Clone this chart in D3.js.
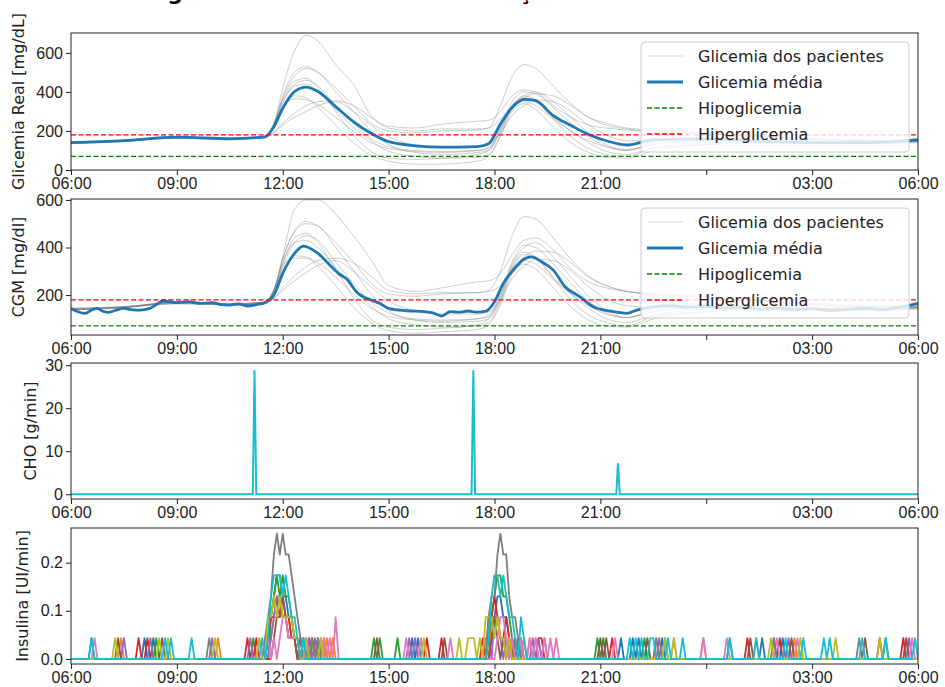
<!DOCTYPE html>
<html>
<head>
<meta charset="utf-8">
<script src="https://cdn.jsdelivr.net/npm/d3@7"></script>
<style>
  body { margin: 0; background: #fff; }
  svg { font-family: "DejaVu Sans", sans-serif; }
</style>
</head>
<body>
<svg id="chart" width="945" height="687"></svg>
<script>
// ---------------- data ----------------
const chartTitle = "Figura 5: Resultado da Simulação em Malha Fechada";
const xTickHours = [0, 3, 6, 9, 12, 15, 18, 21, 24];
const xTickLabels = ["06:00", "09:00", "12:00", "15:00", "18:00", "21:00", "", "03:00", "06:00"];
const legendLabels = ["Glicemia dos pacientes", "Glicemia média", "Hipoglicemia", "Hiperglicemia"];
const hypoLimit = 70;
const hyperLimit = 180;

// key times for the patient curves (both glucose panels)
const keyTimes = ["06:00", "07:30", "09:00", "10:30", "11:30", "11:45", "12:00", "12:20", "12:40", "13:00",
  "13:30", "14:00", "14:30", "15:00", "15:45", "16:30", "17:30", "17:50", "18:10", "18:30", "18:50",
  "19:10", "19:40", "20:10", "20:40", "21:10", "21:45", "22:30", "00:00", "01:30", "03:00", "04:30", "06:00"];

const realMean = [140, 150, 168, 160, 170, 222, 316, 402, 425, 402, 325, 248, 188, 145, 124, 117, 120, 135,
  235, 320, 362, 355, 278, 228, 182, 150, 128, 155, 160, 148, 140, 140, 155];

const realPatients = [
  [135, 148, 172, 158, 168, 240, 420, 610, 690, 660, 540, 440, 280, 225, 215, 235, 250, 255, 300, 380, 410, 400, 330, 270, 230, 215, 205, 200, 190, 175, 160, 150, 150],
  [142, 152, 165, 162, 172, 230, 380, 500, 530, 500, 420, 330, 240, 200, 190, 200, 205, 215, 330, 480, 540, 520, 430, 340, 270, 230, 210, 195, 185, 170, 160, 150, 155],
  [138, 146, 170, 158, 165, 235, 360, 455, 470, 420, 300, 180, 95, 60, 55, 60, 80, 100, 200, 330, 370, 350, 260, 170, 110, 80, 70, 110, 130, 140, 145, 140, 150],
  [145, 150, 165, 165, 170, 225, 340, 440, 460, 430, 330, 240, 160, 120, 100, 95, 100, 110, 220, 350, 400, 390, 320, 240, 170, 120, 100, 140, 160, 150, 140, 135, 145],
  [140, 148, 170, 160, 168, 240, 330, 380, 370, 320, 230, 140, 75, 45, 30, 30, 45, 70, 170, 300, 340, 310, 220, 140, 90, 65, 60, 100, 130, 140, 140, 135, 140],
  [138, 150, 162, 160, 170, 195, 240, 290, 330, 350, 355, 330, 270, 215, 200, 210, 210, 215, 260, 330, 370, 390, 380, 330, 270, 240, 215, 205, 190, 170, 160, 150, 155],
  [142, 150, 168, 163, 170, 230, 320, 365, 360, 335, 270, 200, 140, 110, 95, 90, 100, 115, 210, 320, 350, 330, 260, 200, 150, 120, 105, 130, 150, 150, 145, 140, 150],
  [140, 146, 166, 160, 168, 190, 230, 270, 300, 330, 350, 300, 230, 170, 130, 120, 120, 130, 190, 280, 330, 360, 350, 300, 230, 180, 150, 150, 165, 160, 150, 145, 150],
  [137, 150, 170, 158, 165, 230, 350, 430, 440, 400, 310, 220, 150, 95, 70, 60, 65, 80, 180, 320, 380, 360, 270, 200, 140, 95, 80, 115, 140, 145, 140, 140, 145],
  [143, 152, 168, 162, 172, 235, 370, 480, 520, 500, 400, 300, 200, 130, 90, 80, 90, 100, 200, 330, 380, 400, 350, 270, 190, 130, 100, 130, 150, 150, 145, 140, 150]
];

const cgmMeanTimes = ["06:00", "06:12", "06:24", "06:36", "06:44", "06:54", "07:03", "07:15", "07:29", "07:45",
  "07:57", "08:14", "08:25", "08:36", "08:48", "09:00", "09:20", "09:40", "10:00", "10:15", "10:30", "10:45",
  "11:00", "11:15", "11:30", "11:45", "12:00", "12:20", "12:35", "13:00", "13:20", "13:35", "13:50", "14:05",
  "14:30", "14:45", "15:00", "15:30", "16:00", "16:15", "16:30", "16:45", "17:00", "17:15", "17:30", "17:45",
  "18:00", "18:15", "18:32", "18:52", "19:03", "19:20", "19:40", "20:00", "20:25", "20:48", "21:16", "21:45",
  "22:02", "22:30", "23:00", "23:30", "00:00", "00:30", "01:00", "01:30", "02:00", "02:30", "03:00", "03:30",
  "04:00", "04:30", "05:00", "05:30", "06:00"];
const cgmMean = [144, 130, 123, 138, 144, 132, 127, 135, 144, 138, 137, 144, 160, 175, 172, 168, 172, 165, 168,
  160, 158, 163, 154, 160, 168, 200, 291, 375, 406, 375, 326, 290, 265, 214, 179, 165, 144, 134, 130, 125, 112,
  130, 128, 133, 128, 132, 172, 249, 305, 354, 361, 340, 305, 235, 193, 151, 133, 123, 137, 150, 155, 148, 152,
  145, 150, 140, 145, 138, 142, 135, 140, 145, 138, 150, 165];

const cgmPatients = [
  [140, 148, 172, 158, 168, 215, 360, 560, 600, 600, 540, 450, 350, 240, 215, 230, 255, 260, 290, 370, 430, 440, 390, 310, 255, 230, 215, 205, 195, 180, 165, 155, 150],
  [142, 150, 165, 162, 170, 220, 350, 470, 510, 490, 420, 340, 250, 205, 195, 205, 210, 220, 300, 450, 530, 520, 440, 350, 280, 240, 215, 200, 190, 175, 160, 150, 155],
  [138, 146, 170, 158, 165, 220, 330, 440, 460, 420, 310, 190, 100, 65, 55, 60, 75, 100, 180, 320, 380, 360, 270, 180, 115, 85, 70, 110, 130, 140, 145, 140, 150],
  [145, 150, 165, 165, 170, 215, 320, 420, 450, 430, 340, 250, 170, 125, 100, 95, 100, 110, 200, 340, 410, 400, 330, 250, 175, 125, 105, 140, 160, 150, 140, 135, 145],
  [140, 148, 170, 160, 168, 225, 320, 365, 360, 320, 240, 150, 85, 50, 40, 45, 55, 75, 160, 290, 330, 310, 230, 150, 95, 70, 65, 100, 130, 140, 140, 135, 140],
  [138, 150, 162, 160, 170, 185, 230, 280, 320, 345, 355, 335, 280, 220, 205, 210, 210, 215, 240, 310, 360, 385, 380, 335, 275, 240, 215, 205, 190, 170, 160, 150, 155],
  [142, 150, 168, 163, 170, 220, 305, 355, 355, 335, 275, 205, 145, 110, 95, 90, 100, 115, 200, 310, 345, 330, 265, 205, 155, 120, 105, 130, 150, 150, 145, 140, 150],
  [140, 146, 166, 160, 168, 185, 220, 260, 295, 325, 345, 300, 235, 175, 135, 120, 120, 130, 180, 270, 320, 350, 345, 300, 235, 185, 155, 150, 165, 160, 150, 145, 150],
  [137, 150, 170, 158, 165, 220, 340, 420, 430, 400, 315, 225, 155, 100, 75, 65, 70, 85, 170, 310, 370, 355, 275, 205, 145, 100, 85, 115, 140, 145, 140, 140, 145],
  [143, 152, 168, 162, 172, 225, 355, 465, 500, 490, 400, 305, 205, 135, 95, 85, 90, 100, 190, 330, 400, 420, 360, 275, 195, 135, 105, 130, 150, 150, 145, 140, 150]
];

// carbohydrate intake (g/min)
const choTimes = ["06:00", "11:09", "11:12", "11:15", "17:21", "17:24", "17:27", "21:27", "21:30", "21:33", "06:00"];
const choValues = [0, 0, 28.8, 0, 0, 28.8, 0, 0, 7.2, 0, 0];

// insulin doses: "HH:MM level" where level counts 0.0434 UI/min steps, one list per patient
const insulinStep = 0.0434;
const insulinDoses = [
  // blue
  ["06:35 1", "08:05 1", "08:20 1", "11:35 1", "11:40 2", "11:45 3", "11:50 4", "11:55 4", "12:00 3", "12:05 3", "12:10 2",
   "12:15 2", "12:20 1", "12:25 1", "12:35 1", "15:40 1", "15:50 1", "17:55 1", "18:00 2", "18:05 3", "18:10 3", "18:15 2",
   "18:20 2", "18:25 1", "18:35 1", "21:35 1", "21:55 1", "22:05 1", "22:45 1", "00:40 1", "01:35 1", "01:55 1", "02:10 1"],
  // orange
  ["07:25 1", "10:10 1", "11:40 1", "11:45 2", "11:50 2", "11:55 3", "12:00 2", "12:05 2", "12:10 2", "12:15 1", "12:20 1",
   "12:30 1", "12:50 1", "13:15 1", "13:25 1", "17:45 1", "17:55 2", "18:00 2", "18:05 2", "18:10 1", "18:15 1", "18:20 1",
   "18:30 1", "18:50 1", "19:00 1", "19:10 1", "22:35 1", "23:55 1", "02:30 1", "05:40 1"],
  // green
  ["08:25 1", "11:10 1", "11:40 2", "11:45 3", "11:50 4", "11:55 3", "12:00 4", "12:05 3", "12:10 3", "12:15 2", "12:20 1",
   "12:25 1", "13:00 1", "14:35 1", "14:45 1", "15:15 1", "17:50 1", "17:55 2", "18:00 3", "18:05 4", "18:10 4", "18:15 3",
   "18:20 3", "18:25 2", "18:30 1", "18:40 1", "20:55 1", "21:05 1", "22:15 1", "22:50 1", "05:05 1"],
  // red
  ["07:55 1", "08:10 1", "11:00 1", "11:15 1", "11:35 1", "11:40 2", "11:45 2", "11:50 3", "11:55 2", "12:00 3", "12:05 2",
   "12:10 2", "12:15 1", "12:20 1", "12:45 1", "13:10 1", "16:05 1", "16:30 1", "17:40 1", "17:50 2", "17:55 2", "18:00 3",
   "18:05 2", "18:10 1", "18:15 1", "18:20 2", "18:25 1", "18:35 1", "19:15 1", "19:20 1", "21:20 1", "01:10 1", "02:05 1",
   "04:55 1", "05:35 1"],
  // purple
  ["07:30 1", "08:15 1", "10:00 1", "11:05 1", "11:40 1", "11:45 2", "11:50 3", "11:55 3", "12:00 2", "12:05 2", "12:10 1",
   "12:15 1", "12:20 1", "12:35 1", "12:45 1", "12:55 1", "13:05 1", "15:35 1", "15:45 1", "17:50 1", "18:00 2", "18:05 2",
   "18:10 1", "18:20 1", "18:30 1", "19:05 1", "19:15 1", "19:25 1", "22:40 1", "02:20 1", "05:45 1"],
  // brown
  ["07:20 1", "08:35 1", "11:45 1", "11:50 2", "11:55 2", "12:00 3", "12:05 2", "12:10 1", "12:15 1", "12:20 1", "12:30 1",
   "12:40 1", "12:50 1", "13:00 1", "14:40 1", "16:35 1", "17:55 1", "18:00 2", "18:05 1", "18:15 1", "18:25 1", "18:35 1",
   "18:45 1", "21:00 1", "21:10 1", "22:20 1", "01:15 1", "02:25 1", "04:30 1", "05:40 1"],
  // pink
  ["06:40 1", "11:20 1", "11:30 1", "11:35 1", "11:45 1", "11:55 1", "12:00 2", "12:05 2", "12:10 1", "12:15 1", "12:20 1",
   "12:25 1", "13:10 1", "13:20 1", "13:30 2", "15:30 1", "15:55 1", "16:45 1", "18:05 1", "18:10 2", "18:15 2", "18:20 1",
   "18:30 1", "18:45 1", "19:00 1", "19:10 1", "19:25 1", "19:35 1", "19:45 1", "21:25 1", "23:05 1", "23:55 1", "00:35 1",
   "01:25 1", "02:00 1", "02:35 1", "05:50 1"],
  // gray
  ["09:55 1", "11:30 1", "11:35 2", "11:40 3", "11:45 5", "11:50 6", "11:55 5", "12:00 6", "12:05 5", "12:10 5", "12:15 4",
   "12:20 3", "12:25 2", "12:30 1", "12:40 1", "12:50 1", "13:00 1", "17:50 2", "17:55 3", "18:00 3", "18:05 5", "18:10 6",
   "18:15 5", "18:20 5", "18:25 3", "18:30 2", "18:35 2", "18:40 1", "22:35 1", "01:55 1", "04:20 1"],
  // olive
  ["07:15 1", "08:30 1", "08:45 1", "10:05 1", "11:20 1", "11:35 2", "11:40 2", "11:45 3", "11:50 2", "11:55 3", "12:00 2",
   "12:05 2", "12:10 2", "12:15 2", "12:20 1", "12:25 1", "12:40 1", "13:05 1", "16:00 1", "17:00 1", "17:15 1", "17:20 1",
   "17:25 1", "17:35 1", "17:45 2", "17:50 2", "17:55 2", "18:00 1", "18:05 2", "18:10 1", "18:15 1", "18:25 1", "22:50 1",
   "23:05 1", "01:50 1", "02:40 1", "03:40 1", "04:55 1"],
  // cyan
  ["06:35 1", "08:40 1", "08:50 1", "09:25 1", "11:25 1", "11:35 1", "11:40 3", "11:45 4", "11:50 4", "11:55 4", "12:00 3",
   "12:05 4", "12:10 3", "12:15 2", "12:20 2", "12:25 1", "12:35 1", "17:50 1", "17:55 3", "18:00 4", "18:05 4", "18:10 3",
   "18:15 4", "18:20 3", "18:25 2", "18:30 2", "18:35 1", "18:45 2", "18:50 1", "21:50 1", "22:00 1", "22:10 1", "22:25 1",
   "22:30 1", "22:55 1", "23:20 1", "00:40 1", "01:25 1", "02:15 1", "02:45 1", "03:20 1", "03:30 1", "04:25 1", "05:05 1",
   "05:55 1"]
];

// ---------------- helpers ----------------
// hours since 06:00, going through midnight
function hoursSince6(s) {
  const [h, m] = s.split(":").map(Number);
  let v = h + m / 60 - 6;
  if (v < 0) v += 24;
  return v;
}
function timeline(list) {
  let prev = -1;
  return list.map(s => {
    let v = hoursSince6(s);
    if (v < prev) v += 24;
    prev = v;
    return v;
  });
}

const svg = d3.select("#chart");
const left = 71, right = 918;
const x = d3.scaleLinear().domain([0, 24]).range([left, right]);
const tab10 = d3.schemeCategory10;
const axisColor = "#222";

svg.append("text")
  .attr("x", 472.5).attr("y", 0)
  .attr("text-anchor", "middle")
  .attr("font-size", 22).attr("font-weight", "bold")
  .text(chartTitle);

function drawFrame(top, bottom, domain, ticks, fmt, label, labelX, id) {
  const y = d3.scaleLinear().domain(domain).range([bottom, top]);
  const g = svg.append("g");

  g.append("clipPath").attr("id", id)
    .append("rect").attr("x", left).attr("y", top).attr("width", right - left).attr("height", bottom - top);

  const plot = g.append("g").attr("clip-path", `url(#${id})`);

  const xAxis = g.append("g")
    .attr("transform", `translate(0,${bottom})`)
    .call(d3.axisBottom(x).tickValues(xTickHours).tickSize(5).tickPadding(3)
      .tickFormat((d, i) => xTickLabels[i]));
  const yAxis = g.append("g")
    .attr("transform", `translate(${left},0)`)
    .call(d3.axisLeft(y).tickValues(ticks).tickSize(5).tickPadding(3).tickFormat(fmt));

  [xAxis, yAxis].forEach(a => {
    a.select(".domain").remove();
    a.selectAll("line").attr("stroke", axisColor);
    a.selectAll("text").attr("font-size", 16).attr("fill", axisColor);
  });

  g.append("text")
    .attr("transform", `translate(${labelX},${(top + bottom) / 2}) rotate(-90)`)
    .attr("text-anchor", "middle")
    .attr("dominant-baseline", "central")
    .attr("font-size", 16).attr("fill", axisColor)
    .text(label);

  // frame drawn after the marks
  const frame = () => g.append("rect")
    .attr("x", left).attr("y", top).attr("width", right - left).attr("height", bottom - top)
    .attr("fill", "none").attr("stroke", axisColor).attr("stroke-width", 1);

  return { y, plot, g, frame };
}

function glucosePanel(top, bottom, domain, ticks, label, id, patients, meanTimes, meanValues) {
  const p = drawFrame(top, bottom, domain, ticks, d3.format("d"), label, 18, id);
  const kx = timeline(keyTimes);
  const line = d3.line().curve(d3.curveMonotoneX);

  patients.forEach(vals => {
    p.plot.append("path")
      .attr("d", line(vals.map((v, i) => [x(kx[i]), p.y(v)])))
      .attr("fill", "none").attr("stroke", "#7f7f7f").attr("stroke-opacity", 0.38).attr("stroke-width", 1);
  });

  const mx = timeline(meanTimes);
  p.plot.append("path")
    .attr("d", line(meanValues.map((v, i) => [x(mx[i]), p.y(v)])))
    .attr("fill", "none").attr("stroke", "#1f77b4").attr("stroke-width", 2.8);

  [[hypoLimit, "#008000"], [hyperLimit, "#ff0000"]].forEach(([lv, c]) => {
    p.plot.append("line")
      .attr("x1", left).attr("x2", right).attr("y1", p.y(lv)).attr("y2", p.y(lv))
      .attr("stroke", c).attr("stroke-width", 1.3).attr("stroke-dasharray", "5,2.5");
  });

  // legend
  const lx = 641, ly = top + 9, lw = 268, lh = 110;
  const lg = p.g.append("g");
  lg.append("rect").attr("x", lx).attr("y", ly).attr("width", lw).attr("height", lh)
    .attr("rx", 4).attr("fill", "#fff").attr("fill-opacity", 0.8)
    .attr("stroke", "#ccc").attr("stroke-width", 1);
  const styles = [
    { c: "#7f7f7f", o: 0.3, w: 1, d: null },
    { c: "#1f77b4", o: 1, w: 2.8, d: null },
    { c: "#008000", o: 1, w: 1.3, d: "5,2.5" },
    { c: "#ff0000", o: 1, w: 1.3, d: "5,2.5" }
  ];
  legendLabels.forEach((t, i) => {
    const cy = ly + 14 + i * 26;
    lg.append("line").attr("x1", lx + 6).attr("x2", lx + 42).attr("y1", cy).attr("y2", cy)
      .attr("stroke", styles[i].c).attr("stroke-opacity", styles[i].o)
      .attr("stroke-width", styles[i].w).attr("stroke-dasharray", styles[i].d);
    lg.append("text").attr("x", lx + 57).attr("y", cy).attr("dominant-baseline", "central")
      .attr("font-size", 16).attr("fill", axisColor).text(t);
  });
  p.frame();
}

// panel 1: real glucose
glucosePanel(33, 170, [0, 702], [0, 200, 400, 600], "Glicemia Real [mg/dL]", "clip1",
  realPatients, keyTimes, realMean);

// panel 2: CGM
glucosePanel(199, 335, [32, 604], [200, 400, 600], "CGM [mg/dl]", "clip2",
  cgmPatients, cgmMeanTimes, cgmMean);

// panel 3: CHO
{
  const p = drawFrame(363, 499, [-1.1, 30.5], [0, 10, 20, 30], d3.format("d"), "CHO [g/min]", 30, "clip3");
  const cx = timeline(choTimes);
  p.plot.append("path")
    .attr("d", d3.line()(choValues.map((v, i) => [x(cx[i]), p.y(v)])))
    .attr("fill", "none").attr("stroke", "#17becf").attr("stroke-width", 2);
  p.frame();
}

// panel 4: insulin, sampled every 5 minutes
{
  const p = drawFrame(528, 664, [-0.0104, 0.272], [0, 0.1, 0.2], d3.format(".1f"), "Insulina [UI/min]", 22, "clip4");
  const nSamples = 24 * 12;
  insulinDoses.forEach((doses, k) => {
    const byIndex = new Map(doses.map(s => {
      const [t, lv] = s.split(" ");
      return [Math.round(hoursSince6(t) * 12), +lv];
    }));
    const pts = d3.range(nSamples + 1).map(i => [x(i / 12), p.y((byIndex.get(i) || 0) * insulinStep)]);
    p.plot.append("path")
      .attr("d", d3.line()(pts))
      .attr("fill", "none").attr("stroke", tab10[k]).attr("stroke-width", 1.8)
      .attr("stroke-linejoin", "round");
  });
  p.frame();
}
</script>
</body>
</html>
